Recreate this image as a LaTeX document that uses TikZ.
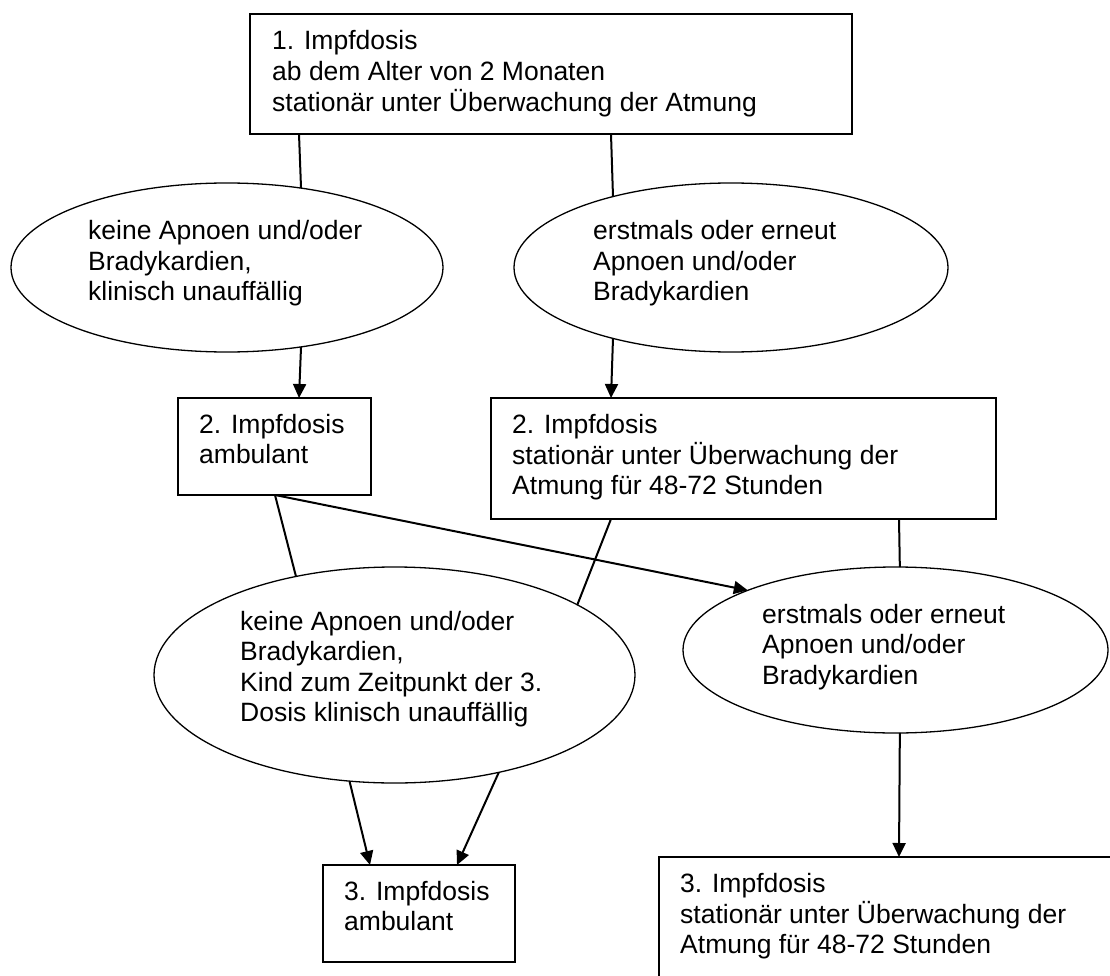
\documentclass[tikz,border=0pt]{standalone}
\usepackage{fontspec}
\setmainfont{Liberation Sans}
\usetikzlibrary{arrows.meta,calc,shapes.geometric}
\newcommand\mlines[1]{\begin{tabular}[t]{@{}l@{}}#1\end{tabular}}
\begin{document}
\begin{tikzpicture}[x=1pt,y=-1pt,
  boxshape/.style={draw,line width=1.5pt,rectangle,inner sep=0pt,outer sep=0pt,anchor=north west},
  ovalshape/.style={draw,line width=1.3pt,ellipse,inner sep=0pt,outer sep=0pt},
  txt/.style={anchor=base west,inner sep=0pt,font=\fontsize{26.5}{30.5}\selectfont},
  conn/.style={line width=2pt},
  arr/.style={conn,-{Triangle[width=13pt,length=14pt]}}]
\useasboundingbox (0,0) rectangle (1110,976);
\fill[white] (0,0) rectangle (1110,976);
\clip (0,0) rectangle (1110,976);

% boxes
\node[boxshape,minimum width=602pt,minimum height=120pt] (b1) at (250,14) {};
\node[boxshape,minimum width=193pt,minimum height=97pt] (b2l) at (178,398) {};
\node[boxshape,minimum width=505pt,minimum height=121pt] (b2r) at (491,398) {};
\node[boxshape,minimum width=192pt,minimum height=97pt] (b3l) at (323,865) {};
\node[boxshape,minimum width=520pt,minimum height=160pt] (b3r) at (659,857) {};

% ellipses
\node[ovalshape,minimum width=432pt,minimum height=169pt] (e1) at (227,267.5) {};
\node[ovalshape,minimum width=434pt,minimum height=169pt] (e2) at (731,267.5) {};
\node[ovalshape,minimum width=481pt,minimum height=216pt] (e3) at (394.5,675) {};
\node[ovalshape,minimum width=425pt,minimum height=166pt] (e4) at (895.5,650) {};

% texts
\node[txt] (t1) at (272,50) {\mlines{1. Impfdosis\\ab dem Alter von 2 Monaten\\stationär unter Überwachung der Atmung}};
\node[txt] (te1) at (88,240) {\mlines{keine Apnoen und/oder\\Bradykardien,\\klinisch unauffällig}};
\node[txt] (te2) at (593,240) {\mlines{erstmals oder erneut\\Apnoen und/oder\\Bradykardien}};
\node[txt] (t2l) at (199,433) {\mlines{2. Impfdosis\\ambulant}};
\node[txt] (t2r) at (512,433) {\mlines{2. Impfdosis\\stationär unter Überwachung der\\Atmung für 48-72 Stunden}};
\node[txt] (te3) at (240,630) {\mlines{keine Apnoen und/oder\\Bradykardien,\\Kind zum Zeitpunkt der 3.\\Dosis klinisch unauffällig}};
\node[txt] (te4) at (762,623) {\mlines{erstmals oder erneut\\Apnoen und/oder\\Bradykardien}};
\node[txt] (t3l) at (344,900) {\mlines{3. Impfdosis\\ambulant}};
\node[txt] (t3r) at (680,892) {\mlines{3. Impfdosis\\stationär unter Überwachung der\\Atmung für 48-72 Stunden}};

% connectors
\draw[conn] ($(b1.south west)+(49,0)$) -- (e1.47.9);
\draw[conn] ($(b1.south west)+(361,0)$) -- (e2.149.6);
\draw[arr] (e1.-47.9) -- ($(b2l.north west)+(121,0)$);
\draw[arr] (e2.-149.6) -- ($(b2r.north west)+(120,0)$);
\draw[conn] ($(b2l.south west)+(97,0)$) -- (e3.135);
\draw[conn] ($(b2r.south west)+(120,0)$) -- (e3.21.9);
\draw[arr] ($(b2l.south west)+(97,0)$) -- (e4.158.7);
\draw[conn] ($(b2r.south west)+(408,0)$) -- (e4.87.6);
\draw[arr] (e4.-87.6) -- ($(b3r.north west)+(240,0)$);
\draw[arr] (e3.-113.2) -- ($(b3l.north west)+(47,0)$);
\draw[arr] (e3.-43.6) -- ($(b3l.north west)+(134,0)$);
\end{tikzpicture}
\end{document}
